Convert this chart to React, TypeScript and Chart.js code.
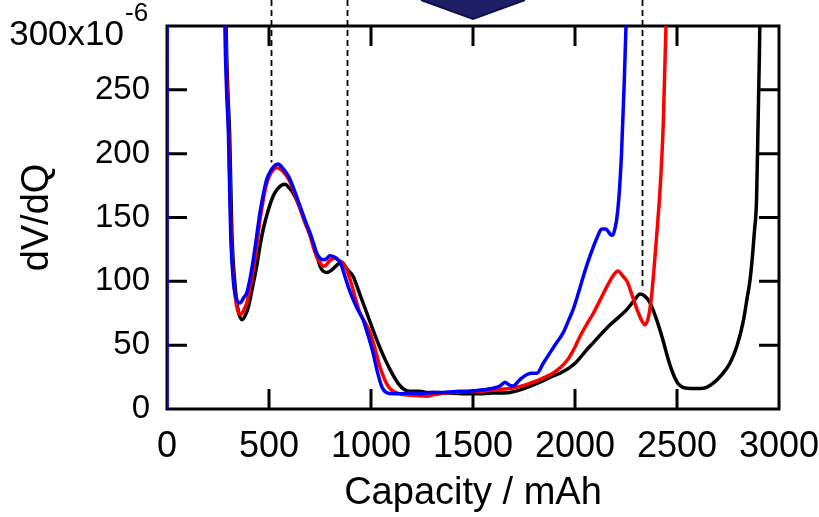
import React, { useEffect, useRef } from 'react';
import { Chart, registerables } from 'chart.js';

Chart.register(...registerables);

// Capacity (mAh) vs dV/dQ (x10^-6)
const blueSeries: [number, number][] = [
  [0, 0], [1, 400], [278, 400], [284, 300], [292, 250], [301, 216], [312, 138], [326, 99], [341, 86], [358, 83],
  [375, 87], [391, 91], [407, 102], [423, 117], [440, 136], [456, 154], [472, 168], [489, 180], [510, 187],
  [530, 191], [544, 192], [560, 190], [580, 186], [603, 180], [627, 170], [652, 159], [676, 148], [701, 138],
  [717, 130], [734, 122], [750, 118], [765, 117], [780, 117.5], [799, 120], [820, 119], [848, 115], [870, 105],
  [890, 95], [912, 86], [935, 78], [961, 70], [985, 58], [1010, 44], [1030, 30], [1054, 17], [1075, 13],
  [1108, 12], [1150, 12], [1190, 12.5], [1240, 12], [1304, 13], [1350, 13], [1400, 13.5], [1436, 14],
  [1480, 14], [1520, 14.5], [1549, 15], [1590, 16], [1632, 18], [1657, 21], [1675, 19], [1696, 18],
  [1730, 23], [1765, 27], [1790, 28], [1813, 28], [1845, 36], [1877, 44], [1910, 52], [1943, 60], [1970, 70],
  [1991, 78], [2015, 90], [2041, 104], [2065, 116], [2090, 127], [2110, 135], [2131, 141], [2150, 141],
  [2163, 139], [2178, 136], [2188, 137], [2198, 143], [2204, 148], [2215, 165], [2228, 200], [2240, 250],
  [2250, 300], [2258, 360],
];

const redSeries: [number, number][] = [
  [282, 380], [287, 300], [295, 250], [303, 216], [314, 138], [328, 99], [342, 80], [360, 74], [375, 77],
  [391, 83], [407, 95], [423, 109], [440, 128], [456, 148], [472, 164], [489, 177], [510, 185], [538, 189],
  [555, 188], [580, 184], [603, 178], [627, 168], [652, 157], [676, 146], [701, 136], [717, 127], [734, 119],
  [750, 115], [765, 112], [775, 112], [790, 115], [805, 117], [824, 118], [845, 116], [873, 112], [900, 100],
  [925, 86], [946, 75], [970, 68], [995, 60], [1020, 47], [1044, 33], [1070, 22], [1093, 16], [1120, 13],
  [1140, 12], [1180, 11], [1220, 10.5], [1274, 10], [1300, 11], [1340, 12], [1387, 13], [1450, 13.5],
  [1500, 14], [1549, 14], [1600, 15], [1640, 15.5], [1681, 16], [1740, 18], [1794, 21], [1840, 24],
  [1892, 28], [1925, 32], [1961, 38], [1995, 47], [2025, 57], [2060, 67], [2090, 75], [2125, 86], [2157, 96],
  [2185, 104], [2211, 108], [2235, 104], [2255, 100], [2280, 89], [2304, 78], [2325, 70], [2343, 66],
  [2360, 72], [2375, 88], [2390, 115], [2405, 145], [2420, 180], [2433, 225], [2446, 300], [2455, 380],
];

const blackSeries: [number, number][] = [
  [285, 380], [290, 300], [298, 250], [307, 216], [318, 138], [332, 100], [348, 78], [368, 70], [383, 73],
  [399, 80], [420, 96], [440, 112], [456, 128], [472, 141], [497, 156], [521, 167], [545, 173], [578, 176],
  [600, 173], [619, 169], [643, 161], [668, 151], [693, 140], [717, 130], [735, 120], [750, 112], [765, 108],
  [784, 107], [800, 108], [815, 110], [835, 113], [858, 115], [880, 110], [912, 104], [945, 90], [980, 75],
  [1005, 64], [1029, 54], [1060, 42], [1093, 31], [1125, 22], [1157, 16], [1190, 14], [1220, 14], [1240, 14],
  [1270, 13], [1304, 13], [1380, 12.5], [1450, 12], [1549, 12], [1600, 12.5], [1681, 13], [1750, 16],
  [1828, 21], [1880, 25], [1926, 28], [1970, 32], [2008, 37], [2050, 45], [2090, 52], [2130, 59], [2172, 66],
  [2215, 72], [2255, 78], [2290, 85], [2319, 90], [2345, 88], [2368, 83], [2400, 70], [2431, 54], [2455, 40],
  [2480, 28], [2505, 20], [2529, 17], [2570, 16], [2613, 16], [2645, 17], [2676, 20], [2720, 27], [2760, 36],
  [2795, 50], [2824, 68], [2845, 88], [2858, 101], [2870, 120], [2880, 140], [2890, 164], [2897, 220],
  [2903, 270], [2908, 320], [2912, 380],
];

// dashed marker lines: capacity position and the dV/dQ level where each stops
const markerCapacity = [510, 882, 2328];
const markerLevel = [193, 117, 93];

const xTickStep = 500;
const yTickStep = 50;
const xMax = 3000;
const yMax = 300;
const arrowCapacity = 1500;

const FONT = '"Liberation Sans", Arial, sans-serif';
const TICK_LEN = 20;

const decorPlugin = {
  id: 'decor',
  beforeDatasetsDraw(chart: any) {
    const { ctx, chartArea: a, scales } = chart;
    const x = scales.x;
    const y = scales.y;
    ctx.save();
    ctx.strokeStyle = '#000';
    ctx.lineWidth = 3;
    ctx.strokeRect(a.left, a.top, a.right - a.left, a.bottom - a.top);
    ctx.beginPath();
    x.ticks.forEach((t: any) => {
      if (t.value <= 0 || t.value >= xMax) return;
      const px = x.getPixelForValue(t.value);
      ctx.moveTo(px, a.bottom);
      ctx.lineTo(px, a.bottom - TICK_LEN);
      ctx.moveTo(px, a.top);
      ctx.lineTo(px, a.top + TICK_LEN);
    });
    y.ticks.forEach((t: any) => {
      if (t.value <= 0 || t.value >= yMax) return;
      const py = y.getPixelForValue(t.value);
      ctx.moveTo(a.left, py);
      ctx.lineTo(a.left + TICK_LEN, py);
      ctx.moveTo(a.right, py);
      ctx.lineTo(a.right - TICK_LEN, py);
    });
    ctx.stroke();
    ctx.restore();
  },
  afterDraw(chart: any) {
    const { ctx, chartArea: a, scales } = chart;
    const x = scales.x;
    const y = scales.y;
    ctx.save();
    // dashed markers
    ctx.strokeStyle = '#000';
    ctx.lineWidth = 1.8;
    ctx.setLineDash([6, 4]);
    markerCapacity.forEach((c, i) => {
      const px = Math.round(x.getPixelForValue(c)) + 0.5;
      ctx.beginPath();
      ctx.moveTo(px, 0);
      ctx.lineTo(px, y.getPixelForValue(markerLevel[i]));
      ctx.stroke();
    });
    ctx.setLineDash([]);
    // arrow head
    const cx = x.getPixelForValue(arrowCapacity);
    ctx.beginPath();
    ctx.moveTo(cx - 52, 0);
    ctx.lineTo(cx + 52, 0);
    ctx.lineTo(cx, 19);
    ctx.closePath();
    ctx.fillStyle = '#1e1e66';
    ctx.fill();
    ctx.beginPath();
    ctx.moveTo(cx - 52, 0);
    ctx.lineTo(cx, 19);
    ctx.lineTo(cx + 52, 0);
    ctx.strokeStyle = '#10104a';
    ctx.lineWidth = 2;
    ctx.stroke();
    // top tick label with multiplier
    const topY = y.getPixelForValue(yMax);
    ctx.fillStyle = '#000';
    ctx.font = `35px ${FONT}`;
    ctx.textAlign = 'right';
    ctx.textBaseline = 'alphabetic';
    ctx.fillText(`${yMax}x10`, a.left - 43, topY + 19);
    ctx.font = `26px ${FONT}`;
    ctx.textAlign = 'left';
    ctx.fillText('-6', a.left - 42, topY - 5);
    ctx.restore();
  },
};

export default function App() {
  const ref = useRef<HTMLCanvasElement | null>(null);
  useEffect(() => {
    if (!ref.current) return;
    const mk = (data: [number, number][], color: string) => ({
      data: data.map(([cx, cy]) => ({ x: cx, y: cy })),
      borderColor: color,
      backgroundColor: color,
      borderWidth: 3.5,
      pointRadius: 0,
      fill: false,
      cubicInterpolationMode: 'monotone' as const,
    });
    const chart = new Chart(ref.current, {
      type: 'line',
      data: {
        datasets: [mk(blueSeries, '#0000ff'), mk(redSeries, '#ff0000'), mk(blackSeries, '#000000')],
      },
      plugins: [decorPlugin],
      options: {
        animation: false,
        responsive: true,
        maintainAspectRatio: false,
        devicePixelRatio: 1,
        layout: { padding: { top: 26, right: 40, left: 0, bottom: 0 } },
        plugins: { legend: { display: false }, tooltip: { enabled: false } },
        scales: {
          x: {
            type: 'linear',
            min: 0,
            max: xMax,
            ticks: {
              stepSize: xTickStep,
              color: '#000',
              font: { family: FONT, size: 36 },
              padding: 16,
              maxRotation: 0,
              autoSkip: false,
              callback: (v: any) => String(v),
            },
            grid: { display: false, drawTicks: false },
            border: { display: false },
            title: {
              display: true,
              text: 'Capacity / mAh',
              color: '#000',
              font: { family: FONT, size: 38 },
              padding: { top: 0, bottom: 1 },
            },
            afterFit: (s: any) => {
              s.height = 108;
              s.paddingLeft = 0;
              s.paddingRight = 0;
            },
          },
          y: {
            type: 'linear',
            min: 0,
            max: yMax,
            ticks: {
              stepSize: yTickStep,
              color: '#000',
              font: { family: FONT, size: 33 },
              padding: 17,
              callback: (v: any) => (Number(v) === yMax ? '' : String(v)),
            },
            grid: { display: false, drawTicks: false },
            border: { display: false },
            title: {
              display: true,
              text: 'dV/dQ',
              color: '#000',
              font: { family: FONT, size: 38 },
              padding: { top: 15, bottom: 0 },
            },
            afterFit: (s: any) => {
              s.width = 167;
              s.paddingTop = 0;
              s.paddingBottom = 0;
            },
          },
        },
      },
    });
    return () => chart.destroy();
  }, []);
  return (
    <div style={{ position: 'fixed', left: 0, top: 0, width: 819, height: 517, background: '#fff' }}>
      <canvas ref={ref} />
    </div>
  );
}
